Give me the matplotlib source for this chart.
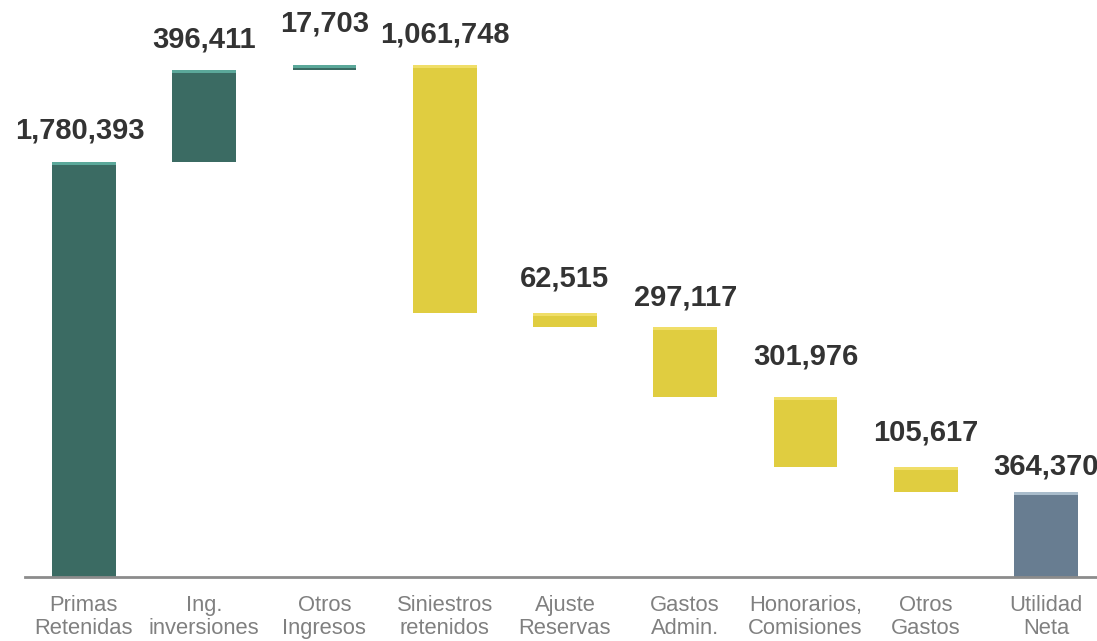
import numpy as np
import matplotlib.pyplot as plt

categories = ["Primas\nRetenidas", "Ing.\ninversiones", "Otros\nIngresos",
              "Siniestros\nretenidos", "Ajuste\nReservas", "Gastos\nAdmin.",
              "Honorarios,\nComisiones", "Otros\nGastos", "Utilidad\nNeta"]
changes = [1780393, 396411, 17703, -1061748, -62515, -297117, -301976, -105617]
total = 364370

green = "#3b6b63"
green_top = "#5ba89a"
yellow = "#e0cd40"
yellow_top = "#f0de68"
slate = "#687d91"
slate_top = "#a9bccb"

# label offsets above bar tops, in pixels
label_offsets = [31, 30, 42, 31, 34, 30, 40, 35, 26]

fig = plt.figure(figsize=(10.97, 6.41), dpi=100)
ax = fig.add_axes([25 / 1097, 64 / 641, 1072 / 1097, 577 / 641])

ymax = 2.475e6
ax.set_xlim(-0.49, 8.425)
ax.set_ylim(0, ymax)
px = ymax / 577  # data units per pixel
strip = 3 * px

x = np.arange(len(categories))
width = 0.53

running = 0
bottoms, heights, colors, tops_col = [], [], [], []
for c in changes:
    if c >= 0:
        bottoms.append(running)
        heights.append(c)
        colors.append(green)
        tops_col.append(green_top)
    else:
        bottoms.append(running + c)
        heights.append(-c)
        colors.append(yellow)
        tops_col.append(yellow_top)
    running += c
bottoms.append(0)
heights.append(total)
colors.append(slate)
tops_col.append(slate_top)

bottoms = np.array(bottoms, dtype=float)
heights = np.array(heights, dtype=float)
tops = bottoms + heights

ax.bar(x, heights, width, bottom=bottoms, color=colors, edgecolor="none")
ax.bar(x, strip, width, bottom=tops - strip, color=tops_col, edgecolor="none")

values = [abs(c) for c in changes] + [total]
for xi, top, v, off in zip(x, tops, values, label_offsets):
    ax.text(xi - 0.03 if xi == 0 else xi, top + off * px, f"{v:,}", ha="center", va="center",
            fontsize=21, fontweight="bold", color="#333333",
            family=["Liberation Sans", "DejaVu Sans"])

ax.set_xticks(x)
ax.set_xticklabels(categories, fontsize=15.8, color="#808080", linespacing=1.1,
                   family=["Liberation Sans", "DejaVu Sans"])
ax.tick_params(axis="x", length=0, pad=13)
ax.set_yticks([])
for s in ["top", "right", "left"]:
    ax.spines[s].set_visible(False)
ax.spines["bottom"].set_color("#8c8c8c")
ax.spines["bottom"].set_linewidth(2)

fig.savefig("out.png", dpi=100)
